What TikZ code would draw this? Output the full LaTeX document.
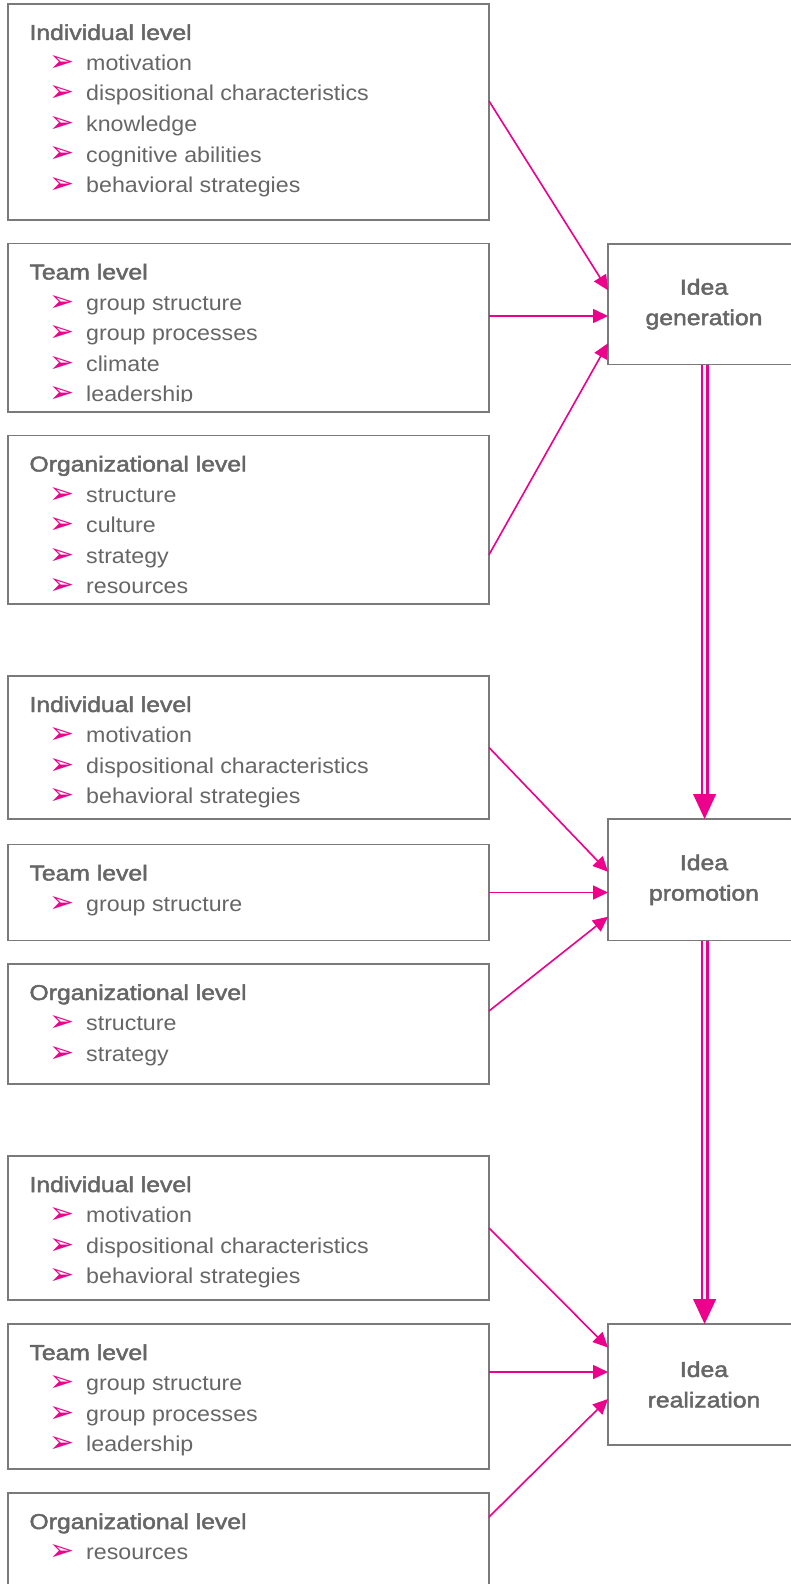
\documentclass[tikz,border=0pt]{standalone}
\usepackage{fontspec}
\setmainfont{Liberation Sans}[FakeStretch=1.08]
\newfontfamily\medfont{Liberation Sans}[FakeStretch=1.15,FakeBold=2.2]
\newfontfamily\dejavu{DejaVu Sans}
\usetikzlibrary{arrows.meta,calc}
\definecolor{mag}{HTML}{EC008C}
\definecolor{txt}{HTML}{666666}
\definecolor{brd}{HTML}{7A7A7A}
\tikzset{
 lbox/.style={draw=brd, line width=1.5pt, minimum width=481pt, inner sep=0pt, outer sep=0pt, anchor=north west},
 rbox/.style={draw=brd, line width=1.5pt, minimum width=192pt, inner sep=0pt, outer sep=0pt, anchor=north west, align=center, text=txt, font=\medfont\fontsize{21.5}{30.5}\selectfont},
 ttl/.style={anchor=base west, inner sep=0pt, text=txt, font=\medfont\fontsize{21.5}{26}\selectfont},
 itm/.style={anchor=base west, inner sep=0pt, text=txt, font=\fontsize{21.5}{26}\selectfont},
 bul/.style={anchor=center, inner sep=0pt, text=mag, font=\dejavu\fontsize{30}{32}\selectfont},
 conn/.style={draw=mag, line width=1.6pt, -{Triangle[length=15pt,width=14pt]}},
 dline/.style={draw=mag, line width=2.6pt},
 dtip/.style={fill=mag},
}
% name, top, height, title, items, extra clip from bottom
\newcommand\lvl[6]{%
 \node[lbox, minimum height=#3pt] (#1) at (8,#2) {};
 \node[ttl] (#1t) at ([xshift=21.3pt,yshift=-36pt]#1.north west) {#4};
 \begin{scope}
 \clip (#1.north west) rectangle ([yshift=#6pt]#1.south east);
 \foreach \txt [count=\k] in {#5}{%
   \node[bul] (#1b\k) at ([xshift=54pt,yshift={-29pt-30.5pt*\k}]#1.north west) {➢};
   \node[itm] (#1i\k) at ([xshift=78pt,yshift={-36pt-30.5pt*\k}]#1.north west) {\txt};
 }
 \end{scope}}
\begin{document}
\begin{tikzpicture}[x=1pt,y=-1pt]
\useasboundingbox (0,0) rectangle (791,1584);
\clip (0,0) rectangle (791,1584);
\lvl{b1}{4}{216}{Individual level}{motivation,dispositional characteristics,knowledge,cognitive abilities,behavioral strategies}{0}
\lvl{b2}{243.5}{168.5}{Team level}{group structure,group processes,climate,leadership}{10.5}
\lvl{b3}{435.5}{168.5}{Organizational level}{structure,culture,strategy,resources}{0}
\lvl{b4}{676}{143}{Individual level}{motivation,dispositional characteristics,behavioral strategies}{0}
\lvl{b5}{844.5}{96}{Team level}{group structure}{0}
\lvl{b6}{964}{120}{Organizational level}{structure,strategy}{0}
\lvl{b7}{1156}{144}{Individual level}{motivation,dispositional characteristics,behavioral strategies}{0}
\lvl{b8}{1324}{145}{Team level}{group structure,group processes,leadership}{0}
\lvl{b9}{1493}{107}{Organizational level}{resources}{0}

\node[rbox, minimum height=120.5pt] (gen) at (608,244) {Idea\\generation};
\node[rbox, minimum height=121.5pt] (prom) at (608,819) {Idea\\promotion};
\node[rbox, minimum height=121pt] (real) at (608,1324) {Idea\\realization};

\draw[conn] ([yshift=11pt]b1.east) -- ([yshift=14pt]gen.west);
\draw[conn] ([yshift=11.75pt]b2.east) -- ([yshift=-11.75pt]gen.west);
\draw[conn] ([yshift=-35pt]b3.east) -- ([yshift=-39pt]gen.west);

\draw[conn] (b4.east) -- ([yshift=8pt]prom.west);
\draw[conn] (b5.east) -- ([yshift=-12.75pt]prom.west);
\draw[conn] ([yshift=13pt]b6.east) -- ([yshift=-37pt]prom.west);

\draw[conn] (b7.east) -- ([yshift=37pt]real.west);
\draw[conn] ([yshift=24.5pt]b8.east) -- ([yshift=12.5pt]real.west);
\draw[conn] ([yshift=29.5pt]b9.east) -- ([yshift=-14.5pt]real.west);

\draw[dline] ([xshift=-2pt]gen.south) -- ([xshift=-2pt,yshift=24pt]prom.north);
\draw[dline] ([xshift=3.3pt]gen.south) -- ([xshift=3.3pt,yshift=24pt]prom.north);
\fill[dtip] ([xshift=0.6pt]prom.north) -- ([xshift=-11pt,yshift=25pt]prom.north) -- ([xshift=12.2pt,yshift=25pt]prom.north) -- cycle;

\draw[dline] ([xshift=-2pt]prom.south) -- ([xshift=-2pt,yshift=24pt]real.north);
\draw[dline] ([xshift=3.3pt]prom.south) -- ([xshift=3.3pt,yshift=24pt]real.north);
\fill[dtip] ([xshift=0.6pt]real.north) -- ([xshift=-11pt,yshift=25pt]real.north) -- ([xshift=12.2pt,yshift=25pt]real.north) -- cycle;
\end{tikzpicture}
\end{document}
